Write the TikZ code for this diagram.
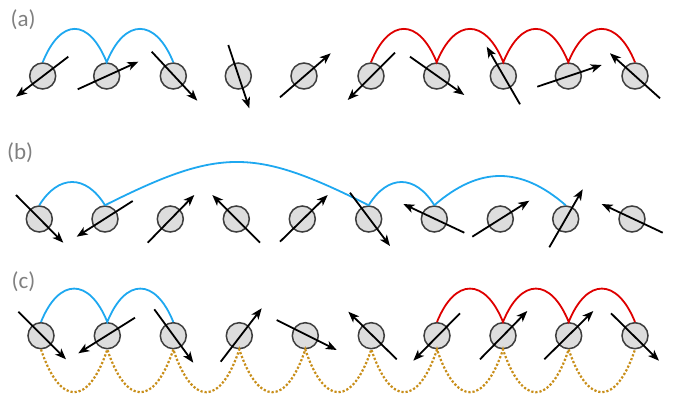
\documentclass[tikz,border=0pt]{standalone}
\usepackage{fontspec}
\setmainfont{Carlito}
\usetikzlibrary{arrows.meta}
\definecolor{arcblue}{RGB}{30,168,240}
\definecolor{arcred}{RGB}{222,0,0}
\definecolor{gold}{RGB}{200,142,25}
\definecolor{spinfill}{RGB}{221,221,221}
\definecolor{spinline}{RGB}{62,62,62}
\definecolor{lblgray}{RGB}{128,128,128}
\tikzset{
  spin/.style={circle, minimum size=26pt, inner sep=0pt, fill=spinfill, draw=spinline, line width=1.5pt},
  spinarrow/.style={line width=1.8pt, -{Stealth[length=11pt,width=8.5pt,inset=3pt]}},
  bluearc/.style={draw=arcblue, line width=1.8pt},
  redarc/.style={draw=arcred, line width=1.8pt},
  goldlink/.style={draw=gold, line width=2.2pt, dash pattern=on 2.2pt off 1.9pt},
  lbl/.style={text=lblgray, font=\fontsize{23}{28}\selectfont, anchor=base west, inner sep=0pt},
}
\newcommand{\sarrow}[5]{\draw[spinarrow] ([shift={(#2,#3)}]#1.center) -- ([shift={(#4,#5)}]#1.center);}
\begin{document}
\begin{tikzpicture}[x=1pt,y=-1pt]
\useasboundingbox (0,0) rectangle (675,401);
% labels
\node[lbl] (la) at (10.5,26.5) {(a)};
\node[lbl] (lb) at (7,159.5) {(b)};
\node[lbl] (lc) at (11.5,288.5) {(c)};
% row a
\foreach \n/\x in {1/42.7,2/106.7,3/173.3,4/238.3,5/304,6/371,7/436.7,8/503.3,9/568.3,10/635}
  \node[spin] (a\n) at (\x,76) {};
% row b
\foreach \n/\x in {1/39.3,2/105,3/170.3,4/236.3,5/302.3,6/368.7,7/434.3,8/500.3,9/565.7,10/632}
  \node[spin] (b\n) at (\x,219) {};
% row c
\foreach \n/\x in {1/41,2/107.3,3/173.3,4/239.3,5/305.3,6/371.3,7/437,8/503,9/568.7,10/635}
  \node[spin] (c\n) at (\x,335.7) {};
% arcs row a
\draw[bluearc] (a1.north) .. controls +(18,-44.5) and +(-18,-44.5) .. (a2.north)
                          .. controls +(18,-44.5) and +(-18,-44.5) .. (a3.north);
\draw[redarc] (a6.north) .. controls +(18,-44.5) and +(-18,-44.5) .. (a7.north)
                         .. controls +(18,-44.5) and +(-18,-44.5) .. (a8.north)
                         .. controls +(18,-44.5) and +(-18,-44.5) .. (a9.north)
                         .. controls +(18,-44.5) and +(-18,-44.5) .. (a10.north);
% arcs row b
\draw[bluearc] (b1.north) .. controls +(19,-31) and +(-19,-31) .. (b2.north);
\draw[bluearc] (b2.north) .. controls +(115,-57.7) and +(-115,-57.7) .. (b6.north);
\draw[bluearc] (b6.north) .. controls +(19,-31) and +(-19,-31) .. (b7.north);
\draw[bluearc] (b7.north) .. controls +(45,-39) and +(-45,-39) .. (b9.north);
% arcs row c
\draw[bluearc] (c1.north) .. controls +(18,-44.5) and +(-18,-44.5) .. (c2.north)
                          .. controls +(18,-44.5) and +(-18,-44.5) .. (c3.north);
\draw[redarc] (c7.north) .. controls +(18,-44.5) and +(-18,-44.5) .. (c8.north)
                         .. controls +(18,-44.5) and +(-18,-44.5) .. (c9.north)
                         .. controls +(18,-44.5) and +(-18,-44.5) .. (c10.north);
\draw[goldlink] (c1.south)
  \foreach \m in {2,...,10} { .. controls +(19,57) and +(-19,57) .. (c\m.south) };
% spin arrows row a
\sarrow{a1}{25.6}{-19.3}{-26.7}{20.7}
\sarrow{a2}{-29}{13.3}{31.6}{-14.3}
\sarrow{a3}{-21.6}{-24.3}{24}{24.7}
\sarrow{a4}{-10}{-31}{11}{32.3}
\sarrow{a5}{-24}{21.3}{26.7}{-22.7}
\sarrow{a6}{24}{-23.3}{-23.3}{24}
\sarrow{a7}{-26.7}{-19.3}{27.6}{19}
\sarrow{a8}{16.7}{28.3}{-16.6}{-29.3}
\sarrow{a9}{-31}{10.7}{33.4}{-11}
\sarrow{a10}{25}{22.3}{-25}{-22.7}
% spin arrows row b
\sarrow{b1}{-23.3}{-24}{24}{23.7}
\sarrow{b2}{27.7}{-18}{-28.3}{17.7}
\sarrow{b3}{-22.6}{23.7}{24}{-24}
\sarrow{b4}{23.7}{23.7}{-24}{-24}
\sarrow{b5}{-22.3}{22.7}{25.4}{-24}
\sarrow{b6}{-18.7}{-26.3}{21.3}{27}
\sarrow{b7}{30}{13.7}{-31}{-15}
\sarrow{b8}{-28}{17.7}{29}{-18.3}
\sarrow{b9}{-16.4}{28.3}{17}{-29.7}
\sarrow{b10}{30.7}{13.7}{-30.3}{-15}
% spin arrows row c
\sarrow{c1}{-22.7}{-24}{25}{23.6}
\sarrow{c2}{27.7}{-18}{-29}{17.6}
\sarrow{c3}{-19}{-26.4}{20}{27}
\sarrow{c4}{-18.6}{26}{22.4}{-27.4}
\sarrow{c5}{-28.6}{-15.7}{31.4}{14.3}
\sarrow{c6}{25.4}{23.6}{-23}{-24}
\sarrow{c7}{23}{-22.4}{-23.7}{25}
\sarrow{c8}{-23}{23.6}{24.3}{-24.7}
\sarrow{c9}{-24.4}{23.6}{24.6}{-24.7}
\sarrow{c10}{-24}{-22.4}{24}{25}
\end{tikzpicture}
\end{document}
